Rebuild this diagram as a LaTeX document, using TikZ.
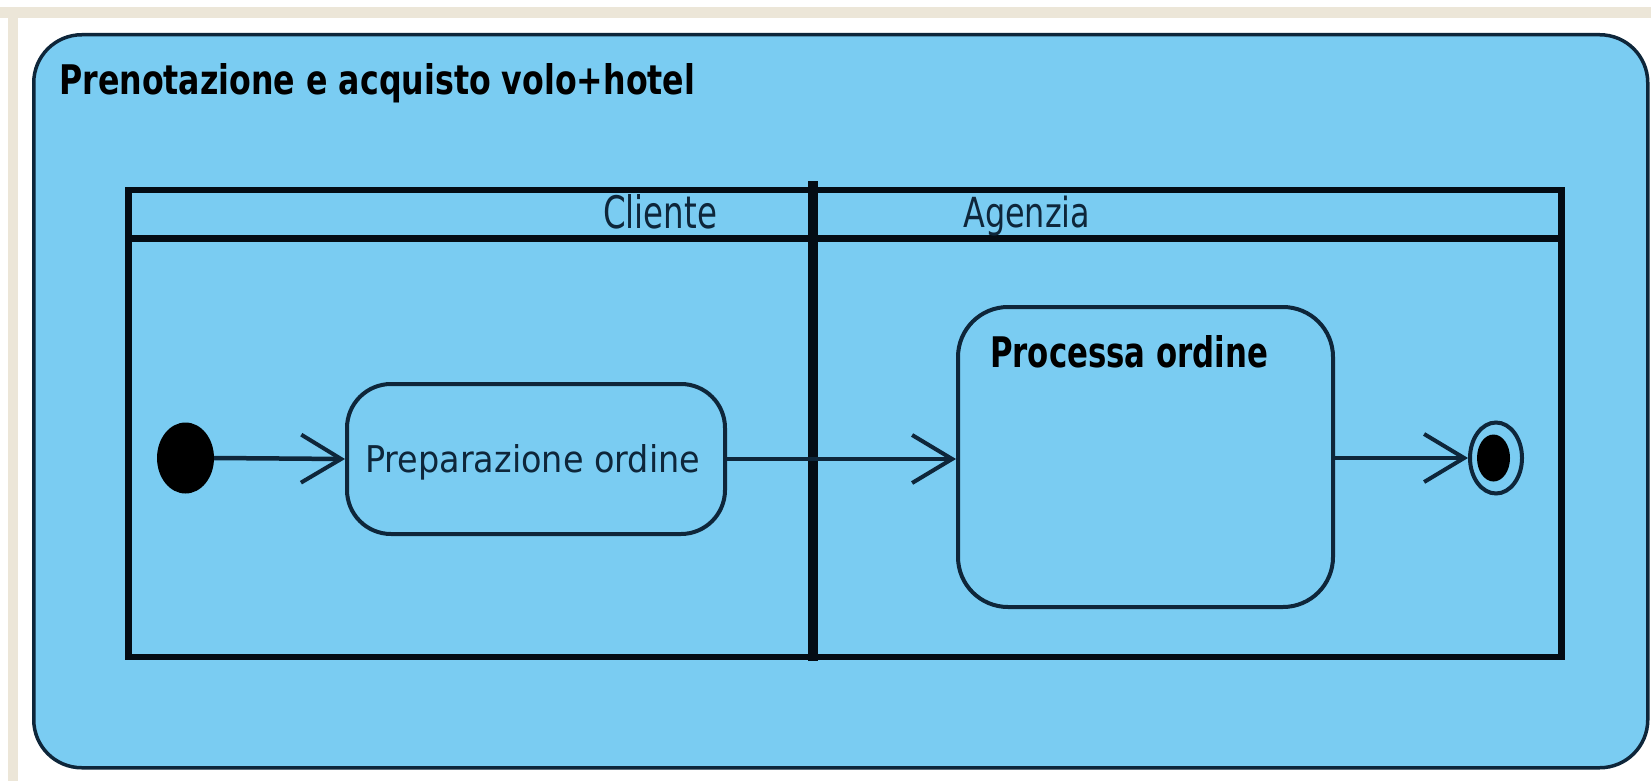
\documentclass[tikz,border=0pt]{standalone}
\usepackage{fontspec}
\setmainfont{DejaVu Sans}
\usetikzlibrary{arrows.meta,shapes.geometric}
\definecolor{vpblue}{RGB}{122,204,242}
\definecolor{vpedge}{RGB}{14,38,58}
\definecolor{laneink}{RGB}{4,12,20}
\definecolor{frame}{RGB}{236,230,216}
\tikzset{
  x=1pt,y=-1pt,
  action/.style={draw=vpedge,line width=4pt,fill=vpblue,inner sep=0pt},
  flow/.style={draw=vpedge,line width=4.5pt,-{Straight Barb[length=40pt,width=48pt,line width=4pt]}},
  txt/.style={inner sep=0pt,anchor=base west,text=vpedge},
  boldtxt/.style={inner sep=0pt,anchor=base west,text=black,font=\bfseries},
  lane/.style={draw=laneink,line width=6.5pt}
}
\begin{document}
\begin{tikzpicture}
\useasboundingbox (0,0) rectangle (1651,781);
\fill[white] (0,0) rectangle (1651,781);
\fill[frame] (0,7) rectangle (1651,18);
\fill[frame] (8,7) rectangle (18,781);
% outer activity
\node[draw=vpedge,line width=3.5pt,fill=vpblue,rounded corners=48pt,minimum width=1614pt,minimum height=733pt,anchor=north west] (act) at (32,33) {};
\node[boldtxt] (title) at (59,95) {\resizebox{636pt}{31pt}{Prenotazione e acquisto volo+hotel}};
% swimlanes
\node[lane,minimum width=1433pt,minimum height=467pt,anchor=north west] (lanes) at (125,186.5) {};
\coordinate (hl) at (125,238.5);
\coordinate (hr) at (1558,238.5);
\draw[lane] (hl) -- (hr);
\coordinate (dt) at (813,181);
\coordinate (db) at (813,661);
\draw[laneink,line width=10pt] (dt) -- (db);
\node[txt] (cliente) at (603,228) {\resizebox{114pt}{34pt}{Cliente}};
\node[txt] (agenzia) at (963,227) {\resizebox{127pt}{31.5pt}{Agenzia}};
% nodes
\node[ellipse,fill=black,minimum width=57pt,minimum height=71pt,inner sep=0pt] (init) at (185.5,458) {};
\node[action,rounded corners=44pt,minimum width=378pt,minimum height=150pt] (prep) at (536,459) {};
\node[txt] (prept) at (365,472) {\resizebox{335pt}{28pt}{Preparazione ordine}};
\node[action,rounded corners=50pt,minimum width=375pt,minimum height=300pt] (proc) at (1145.5,457) {};
\node[boldtxt] (proct) at (990,367) {\resizebox{278pt}{32pt}{Processa ordine}};
\node[ellipse,draw=vpedge,line width=4pt,fill=vpblue,minimum width=52pt,minimum height=71pt,inner sep=0pt] (fin) at (1496,458) {};
\node[ellipse,fill=black,minimum width=33pt,minimum height=47pt,inner sep=0pt] (finc) at (1493.5,458) {};
% flows
\draw[flow] (init.east) -- (prep.west);
\draw[flow] (prep.east) -- (proc.west |- prep.east);
\draw[flow] (proc.east |- fin.west) -- (fin.west);
\end{tikzpicture}
\end{document}
